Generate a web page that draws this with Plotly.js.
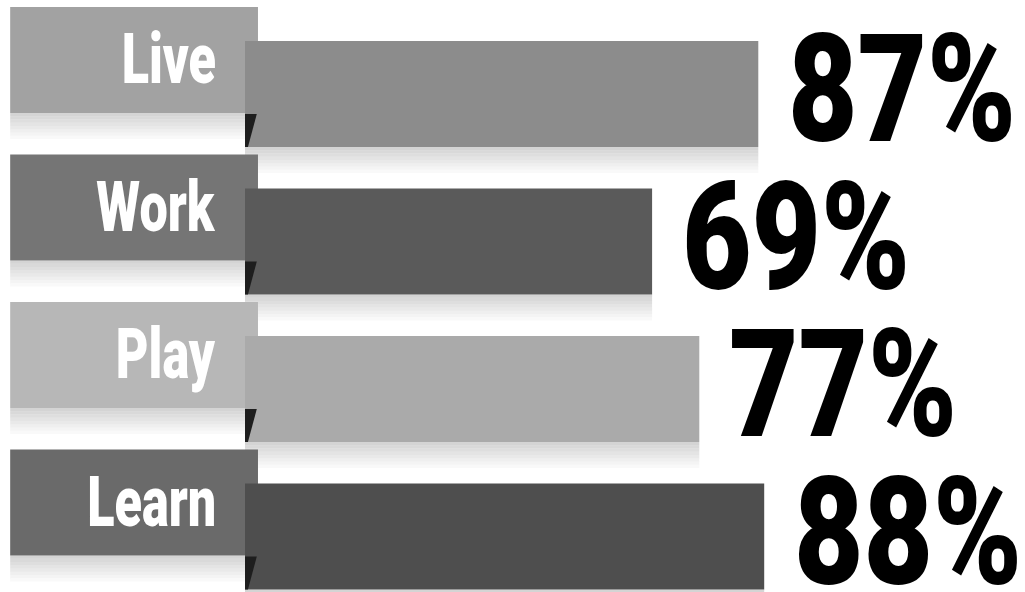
<!DOCTYPE html>
<html>
<head>
<meta charset="utf-8">
<script src="https://cdn.plot.ly/plotly-3.0.1.min.js"></script>
<style>html,body{margin:0;padding:0;background:#fff;}#chart{width:1025px;height:592px;}</style>
</head>
<body>
<div id="chart"></div>
<script>
// ---- data ----
const categories = ["Live", "Work", "Play", "Learn"];
const values = [87, 69, 77, 88];
const valueLabels = ["87%", "69%", "77%", "88%"];
const barColors = ["#8c8c8c", "#5a5a5a", "#aaaaaa", "#4e4e4e"];
const boxColors = ["#a2a2a2", "#757575", "#b7b7b7", "#6a6a6a"];

// ---- layout constants (styling) ----
const PX_PER_UNIT = 5.9;
const ZERO_PX = 245;
const W = 1025, H = 592;
const xRange = [-ZERO_PX / PX_PER_UNIT, (W - ZERO_PX) / PX_PER_UNIT];
const ROW = 147.5;
const barRange = [(H - 94) / ROW, -94 / ROW];
const boxRange = [(H - 60) / ROW, -60 / ROW];
const BOX_START = -39.8, BOX_LEN = 42;
const THICK = 0.72;
const FONT = "Roboto, 'Liberation Sans Narrow', Arial, sans-serif";
const LABEL_SCALE = 0.72, VALUE_SCALE = 0.80;

const boxTrace = {
  type: "bar", orientation: "h",
  y: categories, x: categories.map(() => BOX_LEN), base: BOX_START,
  width: THICK, marker: {color: boxColors, line: {width: 0}},
  xaxis: "x", yaxis: "y", hoverinfo: "skip", showlegend: false
};
const barTrace = {
  type: "bar", orientation: "h",
  y: categories, x: values,
  width: THICK, marker: {color: barColors, line: {width: 0}},
  xaxis: "x", yaxis: "y2", hoverinfo: "skip", showlegend: false
};

const annotations = [];
categories.forEach((c, i) => {
  annotations.push({
    x: BOX_START + BOX_LEN, y: c, xref: "x", yref: "y",
    xanchor: "right", yanchor: "middle", xshift: -40, yshift: 1,
    text: c, showarrow: false,
    font: {family: FONT, size: 70, weight: 900, color: "#ffffff"}
  });
  annotations.push({
    x: values[i], y: c, xref: "x", yref: "y2",
    xanchor: "left", yanchor: "middle", xshift: 28, yshift: 4,
    text: valueLabels[i], showarrow: false,
    font: {family: FONT, size: 150, weight: 900, color: "#000000"}
  });
});

const shapes = [];
// soft shadows under boxes and bars (stacked strips fading out)
const STRIPS = 8, SH_LEN = 26 / ROW;
categories.forEach((c, i) => {
  for (let k = 0; k < STRIPS; k++) {
    const a = 0.55 * (1 - k / STRIPS);
    const y0 = i + THICK / 2 + k * SH_LEN / STRIPS;
    const y1 = y0 + SH_LEN / STRIPS;
    shapes.push({type: "rect", xref: "x", yref: "y", layer: "below",
      x0: BOX_START, x1: BOX_START + BOX_LEN, y0: y0, y1: y1,
      fillcolor: "#b0b0b0", opacity: a, line: {width: 0}});
    shapes.push({type: "rect", xref: "x", yref: "y2", layer: "below",
      x0: 0, x1: values[i], y0: y0, y1: y1,
      fillcolor: "#b0b0b0", opacity: a, line: {width: 0}});
  }
  // fold shading at the left foot of each bar
  shapes.push({
    type: "path", xref: "x", yref: "y2", layer: "above",
    path: `M 0 ${i + 0.135} L 2 ${i + 0.135} L 0.5 ${i + 0.36} L 0 ${i + 0.36} Z`,
    fillcolor: "#1e1e1e", line: {width: 0}
  });
});

const layout = {
  width: W, height: H,
  margin: {l: 0, r: 0, t: 0, b: 0},
  paper_bgcolor: "#ffffff", plot_bgcolor: "rgba(0,0,0,0)",
  barmode: "overlay",
  xaxis: {range: xRange, visible: false, fixedrange: true},
  yaxis: {type: "category", categoryorder: "array", categoryarray: categories,
          range: boxRange, visible: false, fixedrange: true},
  yaxis2: {type: "category", categoryorder: "array", categoryarray: categories,
           range: barRange, visible: false, overlaying: "y", fixedrange: true},
  annotations: annotations,
  shapes: shapes,
  showlegend: false
};

Plotly.newPlot("chart", [boxTrace, barTrace], layout, {displayModeBar: false, staticPlot: true})
  .then(() => {
    // condense the heavy text horizontally, keeping its anchored edge fixed
    document.querySelectorAll("#chart g.annotation").forEach((g, idx) => {
      const t = g.querySelector("text");
      if (!t) return;
      const bb = t.getBBox();
      const isLabel = idx % 2 === 0;
      const s = isLabel ? LABEL_SCALE : VALUE_SCALE;
      const p = isLabel ? bb.x + bb.width : bb.x;
      const prev = t.getAttribute("transform") || "";
      t.setAttribute("transform", `${prev} translate(${p},0) scale(${s},1) translate(${-p},0)`);
    });
  });
</script>
</body>
</html>
